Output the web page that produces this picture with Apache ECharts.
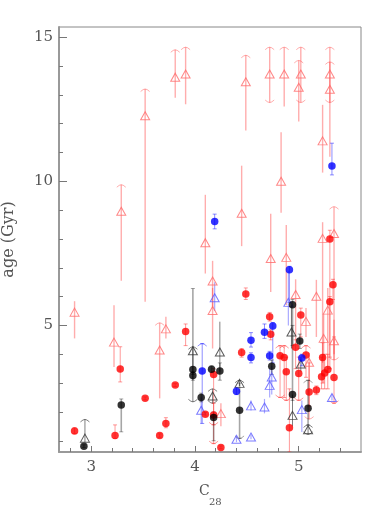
<!DOCTYPE html>
<html><head><meta charset="utf-8">
<script src="https://cdn.jsdelivr.net/npm/echarts@6/dist/echarts.min.js"></script>
<style>html,body{margin:0;padding:0;background:#fff}#c{width:382px;height:508px}</style>
</head><body><div id="c"></div>
<script>
// axis ticks
const xMajorTicks = [3, 4, 5];
const xMinorTicks = [2.8, 3.0, 3.2, 3.4, 3.6, 3.8, 4.0, 4.2, 4.4, 4.6, 4.8, 5.0, 5.2, 5.4];
const yMajorTicks = [5, 10, 15];
const yMinorTicks = [1, 2, 3, 4, 5, 6, 7, 8, 9, 10, 11, 12, 13, 14, 15];

// rows: [C28, age, barLow, barHigh, arrowDown, arrowUp]
const redTriangles = [
[3.52,12.27,5.82,13.20,0,1],[3.81,13.61,12.90,14.56,0,1],[3.91,13.72,12.67,14.65,0,1],
[4.49,13.45,11.76,14.37,0,1],[4.72,13.72,12.73,14.65,1,1],[4.86,13.72,12.59,14.65,0,1],
[5.02,13.72,12.73,14.65,1,1],[5.00,13.26,12.07,14.19,0,1],[5.30,13.72,12.73,14.65,1,1],
[5.30,13.19,10.85,14.14,0,1],[5.23,11.40,10.30,12.65,0,0],[4.83,10.00,8.91,11.70,0,0],
[4.45,8.89,7.75,10.54,0,0],[3.29,8.96,6.55,9.88,0,1],[2.84,5.46,4.55,5.84,0,0],
[4.10,7.87,6.80,9.53,0,0],[4.17,6.54,5.60,7.24,0,0],[4.17,5.52,4.20,6.30,0,0],
[4.73,7.32,6.16,8.87,0,0],[4.88,7.36,5.70,8.48,0,0],[4.97,6.07,4.50,6.60,0,0],
[5.07,5.14,4.60,5.60,0,0],[5.17,6.01,4.60,6.58,0,0],[5.23,8.02,3.70,8.58,0,0],
[5.34,8.19,4.00,9.12,0,1],[5.28,5.53,3.40,6.30,0,0],[5.24,4.55,3.00,5.40,0,0],
[5.34,4.47,3.80,5.20,1,0],[3.22,4.42,3.56,5.70,0,0],[3.66,4.15,2.47,5.09,0,1],
[3.72,4.88,4.55,5.30,0,0],[4.25,1.94,1.50,2.30,0,0],[5.10,3.72,1.75,4.05,1,0]
];
const redCircles = [
[2.84,1.34,1.25,1.45,0,0],[3.23,1.18,1.08,1.55,0,0],[3.28,3.49,3.04,4.26,0,0],
[3.52,2.47,2.42,2.52,0,0],[3.66,1.18,1.12,1.24,0,0],[3.72,1.60,1.45,1.80,0,0],
[3.81,2.93,2.88,2.98,0,0],[3.91,4.79,4.30,5.05,0,0],[4.10,1.92,1.86,1.98,0,0],
[4.18,3.30,0.90,3.50,1,0],[4.18,1.89,1.55,2.30,1,0],[4.25,0.77,0.72,0.82,0,0],
[4.45,4.06,3.90,4.20,0,0],[4.49,6.09,5.90,6.30,0,0],[4.72,5.30,5.15,5.45,0,0],
[4.73,4.69,4.50,4.85,0,0],[4.82,3.95,2.50,4.30,1,1],[4.86,3.89,2.50,4.30,0,1],
[4.88,3.39,2.40,3.90,1,0],[4.91,1.45,0.61,2.80,0,0],[4.97,4.24,3.50,4.50,0,0],
[5.00,3.33,2.40,3.90,1,0],[5.02,5.36,4.60,5.60,0,0],[5.07,3.97,3.20,4.30,0,1],
[5.10,2.69,2.20,3.70,0,0],[5.17,2.76,2.60,2.90,0,0],[5.23,3.89,3.00,4.40,0,0],
[5.22,3.22,2.80,3.90,0,0],[5.25,3.35,2.80,4.00,0,0],[5.28,3.47,2.80,4.00,0,0],
[5.34,3.19,2.30,4.60,1,0],[5.30,8.00,3.90,8.30,0,0],[5.33,6.41,5.90,6.60,0,0],
[5.30,5.82,3.50,6.00,0,0]
];
const blueCircles = [
[4.07,3.42,1.60,4.37,0,1],[4.19,8.60,8.35,8.86,0,0],[4.40,2.72,2.60,2.85,0,0],
[4.54,4.49,4.25,4.75,0,0],[4.54,3.89,3.70,4.05,0,0],[4.67,4.76,4.55,5.05,0,0],
[4.72,3.95,3.80,4.10,0,0],[4.75,4.98,3.70,5.10,0,0],[4.91,6.93,5.80,7.05,0,0],
[5.03,3.87,3.60,4.00,0,0],[5.32,10.53,10.22,11.32,0,0]
];
const blueTriangles = [
[4.06,2.06,1.60,2.50,0,0],[4.19,5.96,5.50,6.50,0,0],[4.40,1.05,0.95,1.15,0,0],
[4.54,1.13,1.05,1.20,0,0],[4.54,2.21,2.05,2.40,0,0],[4.67,2.17,1.95,2.45,0,0],
[4.74,3.21,2.60,3.60,0,0],[4.72,2.92,2.50,3.50,0,0],[4.90,5.80,5.00,6.90,0,0],
[5.03,2.08,1.30,2.40,0,0],[5.32,2.50,2.40,2.60,0,0]
];
const blackCircles = [
[2.93,0.81,0.76,0.86,0,0],[3.29,2.24,1.31,2.45,0,0],[3.98,3.47,3.30,6.28,0,0],
[3.98,3.26,3.10,3.40,0,0],[4.06,2.50,2.35,2.65,0,0],[4.16,3.48,3.35,3.60,0,0],
[4.24,3.42,3.10,3.70,0,0],[4.18,1.81,1.00,2.00,0,0],[4.43,2.06,1.08,3.00,1,0],
[4.74,3.58,3.30,3.80,0,0],[4.94,5.72,4.30,5.90,0,0],[4.94,2.60,2.40,5.00,0,0],
[5.01,4.46,4.20,4.70,0,0],[5.09,2.13,1.55,3.10,0,1]
];
const blackTriangles = [
[2.94,1.09,0.95,1.74,0,1],[3.98,4.12,2.35,4.26,1,1],[4.24,4.08,3.40,5.13,0,0],
[4.17,2.55,2.30,2.80,1,1],[4.43,2.99,2.90,3.10,0,1],[4.93,4.77,4.20,5.70,0,0],
[4.94,1.88,1.50,2.60,0,0],[5.02,3.66,3.40,3.90,0,0],[5.09,1.38,1.22,1.55,1,1]
];

const FONT = 'DejaVu Serif';
function barRender(color, width, serif) {
  return function (params, api) {
    const x = api.value(0), lo = api.value(2), hi = api.value(3);
    const down = api.value(4), up = api.value(5);
    const a = api.coord([x, lo]), b = api.coord([x, hi]);
    const st = { stroke: color, lineWidth: width, fill: null };
    const st1 = { stroke: color, lineWidth: 1, fill: null };
    const kids = [{ type: 'line', shape: { x1: a[0], y1: a[1], x2: b[0], y2: b[1] }, style: st }];
    if (serif) {
      kids.push({ type: 'line', shape: { x1: a[0] - 2, y1: a[1], x2: a[0] + 2, y2: a[1] }, style: st1 });
      kids.push({ type: 'line', shape: { x1: b[0] - 2, y1: b[1], x2: b[0] + 2, y2: b[1] }, style: st1 });
    }
    if (up) kids.push({ type: 'polyline', shape: { points: [[b[0] - 4.5, b[1] + 2.5], [b[0] - 2, b[1] + 0.6], [b[0], b[1]], [b[0] + 2, b[1] + 0.6], [b[0] + 4.5, b[1] + 2.5]] }, style: st1 });
    if (down) kids.push({ type: 'polyline', shape: { points: [[a[0] - 4.5, a[1] - 2.5], [a[0] - 2, a[1] - 0.6], [a[0], a[1]], [a[0] + 2, a[1] - 0.6], [a[0] + 4.5, a[1] - 2.5]] }, style: st1 });
    return { type: 'group', children: kids };
  };
}
function bars(data, color, width, serif) {
  return { type: 'custom', renderItem: barRender(color, width, serif), data: data, encode: { x: 0, y: 1 }, clip: true, z: 2, silent: true };
}
function pts(data, opts) {
  return Object.assign({ type: 'scatter', data: data.map(r => [r[0], r[1]]), clip: true, silent: true }, opts);
}

const chart = echarts.init(document.getElementById('c'), null, { renderer: 'canvas' });
const axisBase = { min: 2.69, max: 5.60, splitLine: { show: false } };
const yBase = { min: 0.61, max: 15.35, splitLine: { show: false } };
chart.setOption({
  animation: false,
  backgroundColor: '#fff',
  grid: { left: 59, right: 21, top: 27, bottom: 56, containLabel: false, outerBoundsMode: 'none', show: true, borderColor: '#888', borderWidth: 1, backgroundColor: 'transparent' },
  xAxis: [
    Object.assign({ type: 'value', position: 'bottom',
      axisLine: { show: true, onZero: false, lineStyle: { color: '#999', width: 2 } },
      axisTick: { show: true, inside: true, length: 4, customValues: xMinorTicks, lineStyle: { color: '#777' } },
      axisLabel: { show: false } }, axisBase),
    Object.assign({ type: 'value', position: 'bottom',
      axisLine: { show: false, onZero: false },
      axisTick: { show: true, inside: true, length: 6, customValues: xMajorTicks, lineStyle: { color: '#777' } },
      axisLabel: { show: true, customValues: xMajorTicks, color: '#555', fontFamily: FONT, fontSize: 15, margin: 8 } }, axisBase)
  ],
  yAxis: [
    Object.assign({ type: 'value', position: 'left',
      axisLine: { show: true, onZero: false, lineStyle: { color: '#999', width: 2 } },
      axisTick: { show: true, inside: true, length: 4, customValues: yMinorTicks, lineStyle: { color: '#777' } },
      axisLabel: { show: false } }, yBase),
    Object.assign({ type: 'value', position: 'left',
      axisLine: { show: false, onZero: false },
      axisTick: { show: true, inside: true, length: 8, customValues: yMajorTicks, lineStyle: { color: '#777' } },
      axisLabel: { show: true, customValues: yMajorTicks, color: '#555', fontFamily: FONT, fontSize: 15, margin: 6 },
      name: 'age (Gyr)', nameLocation: 'middle', nameGap: 42, nameRotate: 90,
      nameTextStyle: { color: '#555', fontFamily: FONT, fontSize: 16 } }, yBase)
  ],
  graphic: [
    { type: 'text', left: 199, top: 484, style: { text: 'C', fill: '#555', font: '14px "DejaVu Serif"' }, silent: true },
    { type: 'text', left: 209, top: 497, style: { text: '28', fill: '#555', font: '10px "DejaVu Serif"' }, silent: true }
  ],
  series: [
    bars(redTriangles, 'rgba(255,40,40,0.38)', 1.4, false),
    bars(blueTriangles, 'rgba(40,40,255,0.4)', 1.2, false),
    bars(blackTriangles, 'rgba(0,0,0,0.5)', 1, false),
    bars(redCircles, 'rgba(255,30,30,0.45)', 1, true),
    bars(blueCircles, 'rgba(30,30,255,0.5)', 1, true),
    bars(blackCircles, 'rgba(0,0,0,0.35)', 1.6, true),
    pts(redTriangles, { symbol: 'triangle', symbolSize: [9, 8], z: 3, itemStyle: { color: 'rgba(255,255,255,0)', borderColor: '#ff6a6a', borderWidth: 1 } }),
    pts(blueTriangles, { symbol: 'triangle', symbolSize: [9, 8], z: 3, itemStyle: { color: 'rgba(255,255,255,0)', borderColor: '#5a5aff', borderWidth: 1 } }),
    pts(blackTriangles, { symbol: 'triangle', symbolSize: [9, 8], z: 3, itemStyle: { color: 'rgba(255,255,255,0)', borderColor: '#333', borderWidth: 1 } }),
    pts(redCircles, { symbol: 'circle', symbolSize: 7.5, z: 4, itemStyle: { color: '#ff0000' } }),
    pts(blueCircles, { symbol: 'circle', symbolSize: 7.5, z: 4, itemStyle: { color: '#0000ff' } }),
    pts(blackCircles, { symbol: 'circle', symbolSize: 7.5, z: 4, itemStyle: { color: '#000000' } })
  ]
});
</script></body></html>
